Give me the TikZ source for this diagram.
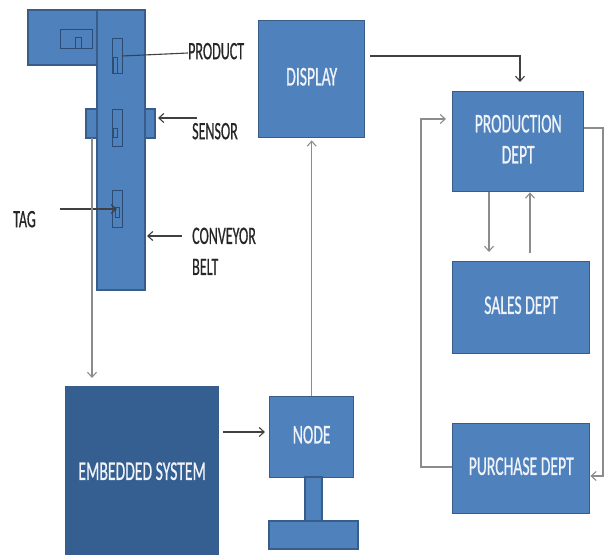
\documentclass[tikz,border=0pt]{standalone}
\usepackage{fontspec}
\setmainfont{Carlito}
\newfontfamily\heavyfont{Carlito}[FakeBold=0.8]
\usetikzlibrary{arrows.meta}
\definecolor{boxblue}{HTML}{4F81BD}
\definecolor{boxedge}{HTML}{385D8A}
\definecolor{darkbox}{HTML}{365F91}
\definecolor{lndark}{HTML}{404040}
\definecolor{lngray}{HTML}{8C8C8C}
\definecolor{boxtext}{HTML}{F0F4FA}
\definecolor{prodline}{HTML}{2C4C74}
\newcommand{\boxtxt}[1]{\scalebox{0.58}[1]{\begin{tabular}{@{}c@{}}#1\end{tabular}}}
\newcommand{\lbltxt}[1]{\scalebox{0.56}[1]{\begin{tabular}{@{}l@{}}#1\end{tabular}}}
\tikzset{
  blk/.style={draw=boxedge, fill=boxblue, line width=1.4pt, inner sep=0pt, anchor=north west,
    text=boxtext, font=\heavyfont\fontsize{27}{31}\selectfont},
  dblk/.style={blk, fill=darkbox},
  part/.style={draw=boxedge, fill=boxblue, line width=1.2pt},
  item/.style={draw=prodline, line width=0.9pt},
  lbl/.style={inner sep=0pt, text=black!85, font=\heavyfont\fontsize{25}{31}\selectfont},
  arr/.style={line width=1.1pt, -{Straight Barb[length=5pt,width=9pt]}},
  dk/.style={draw=lndark},
  gr/.style={draw=lngray}
}
\begin{document}
\begin{tikzpicture}[x=1pt,y=-1pt]
\useasboundingbox (0,0) rectangle (609,554);
\fill[white] (0,0) rectangle (609,554);

% conveyor
\draw[part] (86,109) rectangle (97,138);
\draw[part] (145,109) rectangle (155,138);
\draw[part] (28,10) rectangle (97,65);
\draw[part] (97,10) rectangle (145,290);
\coordinate (sensL) at (92,138);
\coordinate (sensR) at (158,118);
\coordinate (beltR) at (147,236);
% products
\draw[item] (60,29) rectangle (92,48);
\draw[item] (75,37) rectangle (81,48);
\draw[item] (112,38) rectangle (122,73);
\draw[item] (113,57) rectangle (117,73);
\draw[item] (112,109) rectangle (122,146);
\draw[item] (113,128) rectangle (117,137);
\draw[item] (112,190) rectangle (122,227);
\draw[item] (115,207) rectangle (119,217);
\coordinate (prod1) at (122,56);
\coordinate (tagpt) at (117,209);

% labels
\node[lbl, anchor=west] (lprod) at (188,53) {\lbltxt{PRODUCT}};
\node[lbl, anchor=west] (lsens) at (192,133) {\lbltxt{SENSOR}};
\node[lbl, anchor=west] (ltag) at (13,221) {\lbltxt{TAG}};
\node[lbl, anchor=north west] (lconv) at (192,222) {\lbltxt{CONVEYOR\\BELT}};
\coordinate (sensA) at (197,118);
\coordinate (tagA) at (60,209);
\coordinate (convA) at (182,236);

% boxes
\node[blk, minimum width=106pt, minimum height=117pt] (display) at (258,20) {\boxtxt{DISPLAY}};
\node[blk, minimum width=131pt, minimum height=100pt] (production) at (452,91) {\boxtxt{PRODUCTION\\DEPT}};
\node[blk, minimum width=137pt, minimum height=92pt] (sales) at (452,261) {\boxtxt{SALES DEPT}};
\node[blk, minimum width=137pt, minimum height=90pt] (purchase) at (452,423) {\boxtxt{PURCHASE DEPT}};
\node[dblk, minimum width=153pt, minimum height=174pt] (embedded) at (65,386) {\boxtxt{EMBEDDED SYSTEM}};
\node[blk, minimum width=84pt, minimum height=81pt] (node) at (269,396) {\boxtxt{NODE}};
\draw[part] (305,477) rectangle (322,521);
\draw[part] (269,521) rectangle (358,549);

% connectors
\draw[dk, line width=1.1pt] (prod1) -- (lprod.west);
\draw[arr, dk] (sensA) -- (sensR);
\draw[arr, dk] (tagA) -- (tagpt);
\draw[arr, dk] (convA) -- (beltR);
\draw[arr, gr] (sensL) -- (92,378);
\draw[arr, dk] ([xshift=4pt]embedded.east |- 0,432) -- ([xshift=-4pt]node.west |- 0,432);
\draw[arr, gr] (node.north) -- ([yshift=-2pt]display.south);
\draw[arr, dk] ([xshift=5pt]display.east |- 0,56) -- (520,56) -- ([yshift=9pt]production.north -| 520,0);
\draw[arr, gr] (production.south -| 489,0) -- ([yshift=9pt]sales.north -| 489,0);
\draw[arr, gr] ([yshift=8pt]sales.north -| 530,0) -- (production.south -| 530,0);
\draw[arr, gr] (production.east |- 0,128) -- (603,128) -- (603,476) -- (purchase.east |- 0,476);
\draw[arr, gr] (purchase.west |- 0,467) -- (421,467) -- (421,119) -- ([xshift=-6pt]production.west |- 0,119);
\end{tikzpicture}
\end{document}
